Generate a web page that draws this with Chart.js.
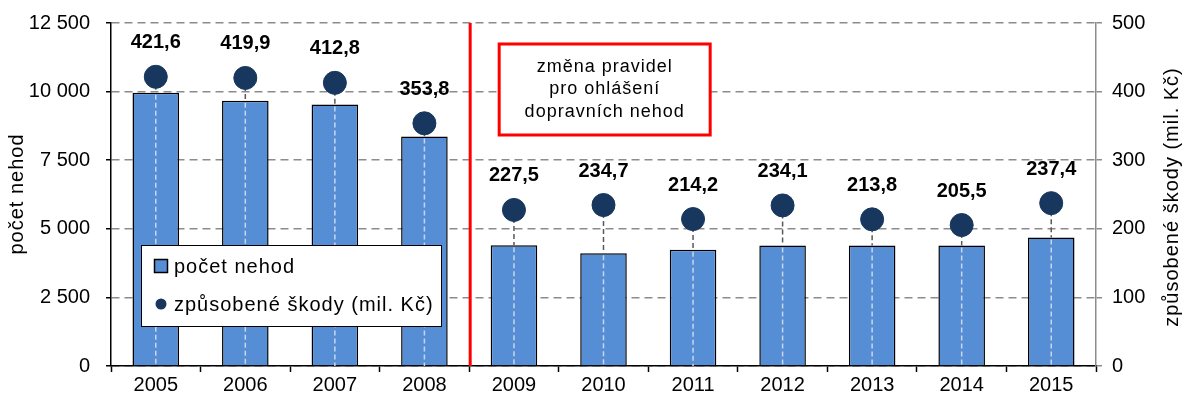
<!DOCTYPE html>
<html><head><meta charset="utf-8">
<script src="https://cdn.jsdelivr.net/npm/chart.js@4"></script>
<style>html,body{margin:0;padding:0;background:#fff}#wrap{width:1185px;height:403px}</style>
</head><body><div id="wrap"><canvas id="c" width="1185" height="403"></canvas></div>
<script>
const years = ['2005','2006','2007','2008','2009','2010','2011','2012','2013','2014','2015'];
const accidents = [9960, 9670, 9530, 8360, 4400, 4110, 4240, 4390, 4390, 4390, 4680];
const damages = [421.6, 419.9, 412.8, 353.8, 227.5, 234.7, 214.2, 234.1, 213.8, 205.5, 237.4];
const leftTicks = [0, 2500, 5000, 7500, 10000, 12500];
const leftTickLabels = ['0', '2 500', '5 000', '7 500', '10 000', '12 500'];
const rightTicks = [0, 100, 200, 300, 400, 500];
const seriesNames = ['počet nehod', 'způsobené škody (mil. Kč)'];
const axisTitles = ['počet nehod', 'způsobené škody (mil. Kč)'];
const noteLines = ['změna pravidel', 'pro ohlášení', 'dopravních nehod'];
const ruleChangeAfter = 3; // index of last category before the rule change

const FONT = "'Liberation Sans', Arial, sans-serif";
const BAR_COLOR = '#558ed5';
const DOT_COLOR = '#17375e';

const fmt = v => v.toFixed(1).replace('.', ',');

const dropLines = {
  id: 'dropLines',
  afterDatasetDraw(chart, args) {
    if (args.index !== 0) return;
    const ctx = chart.ctx;
    const bars = chart.getDatasetMeta(0).data;
    const pts = chart.getDatasetMeta(1).data;
    ctx.save();
    ctx.lineWidth = 1.5;
    ctx.setLineDash([5, 3]);
    pts.forEach((p, i) => {
      const b = bars[i];
      ctx.strokeStyle = '#595959';
      ctx.beginPath(); ctx.moveTo(p.x, p.y); ctx.lineTo(p.x, b.y); ctx.stroke();
      ctx.strokeStyle = '#c9d6ea';
      ctx.beginPath(); ctx.moveTo(p.x, b.y + 2); ctx.lineTo(p.x, chart.chartArea.bottom); ctx.stroke();
    });
    ctx.restore();
  }
};

const labelsPlugin = {
  id: 'valueLabels',
  afterDatasetsDraw(chart) {
    const ctx = chart.ctx;
    const pts = chart.getDatasetMeta(1).data;
    ctx.save();
    ctx.font = 'bold 20px ' + FONT;
    ctx.fillStyle = '#000';
    ctx.textAlign = 'center';
    ctx.textBaseline = 'middle';
    pts.forEach((p, i) => ctx.fillText(fmt(damages[i]), p.x, p.y - 34));
    ctx.restore();
  }
};

const extras = {
  id: 'extras',
  afterDraw(chart) {
    const ctx = chart.ctx;
    const ca = chart.chartArea;
    const xs = chart.scales.x;
    ctx.save();
    // axis titles
    ctx.fillStyle = '#000';
    ctx.font = '20px ' + FONT;
    try { ctx.letterSpacing = '1px'; } catch (e) {}
    ctx.textAlign = 'center';
    ctx.textBaseline = 'middle';
    ctx.save(); ctx.translate(17, 194); ctx.rotate(-Math.PI / 2); ctx.fillText(axisTitles[0], 0, 0); ctx.restore();
    ctx.save(); ctx.translate(1172, 197); ctx.rotate(-Math.PI / 2); ctx.fillText(axisTitles[1], 0, 0); ctx.restore();

    // red separator line
    const sepX = (xs.getPixelForValue(ruleChangeAfter) + xs.getPixelForValue(ruleChangeAfter + 1)) / 2 + 1;
    ctx.strokeStyle = '#ff0000';
    ctx.lineWidth = 3;
    ctx.beginPath(); ctx.moveTo(sepX, ca.top); ctx.lineTo(sepX, ca.bottom); ctx.stroke();

    // note box
    const bx = sepX + 29, by = 44, bw = 211, bh = 91;
    ctx.fillStyle = '#fff';
    ctx.fillRect(bx, by, bw, bh);
    ctx.strokeRect(bx, by, bw, bh);
    ctx.fillStyle = '#000';
    ctx.font = '18px ' + FONT;
    try { ctx.letterSpacing = '1px'; } catch (e) {}
    noteLines.forEach((t, i) => ctx.fillText(t, bx + bw / 2, 67 + i * 22.5));

    // legend
    const lx = 141.5, ly = 245.5, lw = 300, lh = 81;
    ctx.fillStyle = '#fff';
    ctx.fillRect(lx, ly, lw, lh);
    ctx.strokeStyle = '#000';
    ctx.lineWidth = 1;
    ctx.strokeRect(lx, ly, lw, lh);
    ctx.fillStyle = BAR_COLOR;
    ctx.fillRect(154.5, 259.5, 13, 13);
    ctx.lineWidth = 1.5;
    ctx.strokeRect(154.5, 259.5, 13, 13);
    ctx.fillStyle = DOT_COLOR;
    ctx.beginPath(); ctx.arc(161, 304, 5.5, 0, Math.PI * 2); ctx.fill();
    ctx.fillStyle = '#000';
    ctx.font = '20px ' + FONT;
    try { ctx.letterSpacing = '1px'; } catch (e) {}
    ctx.textAlign = 'left';
    ctx.fillText(seriesNames[0], 174, 267);
    ctx.fillText(seriesNames[1], 174, 305);
    ctx.restore();
  }
};

new Chart(document.getElementById('c'), {
  data: {
    labels: years,
    datasets: [
      {
        type: 'bar', label: seriesNames[0], data: accidents, yAxisID: 'y', order: 2,
        backgroundColor: BAR_COLOR, borderColor: '#000', borderWidth: 1.5,
        barPercentage: 0.52, categoryPercentage: 1
      },
      {
        type: 'line', label: seriesNames[1], data: damages, yAxisID: 'y1', order: 1,
        showLine: false, pointRadius: 11.5, pointHoverRadius: 11.5,
        pointBackgroundColor: DOT_COLOR, pointBorderColor: DOT_COLOR, borderColor: DOT_COLOR
      }
    ]
  },
  options: {
    responsive: false,
    animation: false,
    devicePixelRatio: 1,
    layout: { autoPadding: false, padding: { top: 23, left: 0, right: 0, bottom: 0 } },
    plugins: { legend: { display: false }, tooltip: { enabled: false } },
    scales: {
      x: {
        offset: true,
        afterFit(s) { s.height = 37; s.paddingLeft = 0; s.paddingRight = 0; },
        grid: { display: true, drawOnChartArea: false, offset: true, tickLength: 6, tickColor: '#000', tickWidth: 1.5 },
        border: { display: true, color: '#000', width: 1.5 },
        ticks: { color: '#000', font: { family: FONT, size: 20 }, padding: 1, maxRotation: 0 }
      },
      y: {
        position: 'left', min: 0, max: 12500,
        afterFit(s) { s.width = 111; s.paddingTop = 0; s.paddingBottom = 0; },
        afterBuildTicks(s) { s.ticks = leftTicks.map(v => ({ value: v })); },
        grid: { color: '#8c8c8c', lineWidth: 1.5, tickLength: 5, tickColor: '#000', tickBorderDash: [] },
        border: { display: true, color: '#000', width: 1.5, dash: [8, 5] },
        ticks: {
          color: '#000', font: { family: FONT, size: 20 }, padding: 16,
          callback: v => leftTickLabels[leftTicks.indexOf(v)]
        }
      },
      y1: {
        position: 'right', min: 0, max: 500,
        afterFit(s) { s.width = 89; s.paddingTop = 0; s.paddingBottom = 0; },
        afterBuildTicks(s) { s.ticks = rightTicks.map(v => ({ value: v })); },
        grid: { drawOnChartArea: false, tickLength: 6, tickColor: '#8c8c8c', lineWidth: 1.5 },
        border: { display: true, color: '#8c8c8c', width: 1.5 },
        ticks: { color: '#000', font: { family: FONT, size: 20 }, padding: 10 }
      }
    }
  },
  plugins: [dropLines, labelsPlugin, extras]
});
</script>
</body></html>
